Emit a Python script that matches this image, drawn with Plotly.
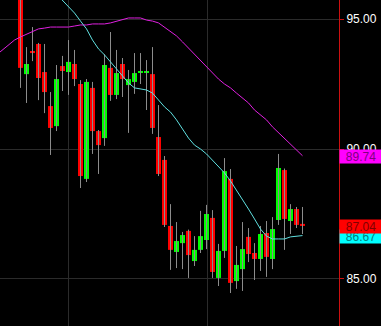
import plotly.graph_objects as go

# ---- data ----
idx = list(range(1, 49))
open_ = [96.00, 92.88, 93.77, 94.04, 92.96, 91.65, 90.88, 93.19, 92.96, 93.27,
         92.50, 88.85, 92.35, 90.69, 90.42, 93.12, 92.08, 93.27, 92.46, 92.58,
         92.94, 92.94, 92.88, 90.46, 89.58, 87.04, 86.04, 86.38, 86.85, 85.69,
         86.12, 86.50, 87.35, 85.04, 86.08, 88.85, 84.92, 85.38, 86.62, 86.00,
         85.77, 86.77, 85.77, 87.27, 89.19, 87.23, 87.69, 87.12]
high = [96.20, 93.92, 94.69, 94.08, 94.04, 92.19, 93.23, 93.58, 94.19, 93.81,
        92.65, 92.69, 92.58, 90.73, 93.65, 94.50, 93.81, 93.50, 93.04, 93.69,
        93.69, 93.42, 93.92, 91.69, 89.73, 87.88, 87.19, 86.81, 86.90, 86.65,
        87.62, 87.85, 87.65, 86.35, 89.65, 89.23, 86.27, 87.19, 86.96, 86.38,
        87.04, 87.23, 87.38, 89.81, 89.25, 87.88, 87.77, 87.77]
low = [92.35, 91.77, 93.38, 91.88, 91.38, 89.77, 90.69, 92.23, 92.08, 92.42,
       88.50, 88.73, 89.81, 89.04, 90.12, 91.85, 91.92, 92.00, 90.62, 92.12,
       92.50, 91.50, 90.58, 88.96, 87.00, 85.35, 85.42, 85.38, 85.04, 85.50,
       86.00, 86.15, 85.04, 84.73, 85.81, 84.46, 84.62, 84.54, 85.65, 84.96,
       85.31, 85.08, 85.38, 87.08, 86.12, 86.73, 86.96, 86.73]
close = [93.12, 93.27, 93.69, 92.73, 92.19, 90.81, 92.69, 93.00, 93.35, 92.69,
         88.96, 92.58, 90.69, 90.15, 93.23, 92.08, 92.92, 92.69, 92.69, 92.92,
         92.98, 92.98, 90.81, 89.04, 87.08, 86.12, 86.46, 86.69, 85.92, 86.12,
         86.65, 87.50, 85.27, 86.08, 89.15, 84.85, 85.54, 86.15, 85.96, 85.77,
         86.73, 85.85, 86.92, 89.27, 87.31, 87.69, 87.08, 87.04]

ma_x = list(range(-3, 49))
ma_fast = [None] * 10 + [
    95.96, 95.73, 95.50, 95.23, 94.92, 94.62, 94.19, 93.85, 93.62, 93.35,
    93.08, 92.77, 92.54, 92.35, 92.31, 92.27, 92.15, 91.88, 91.62, 91.42,
    91.12, 90.77, 90.42, 90.15, 90.00, 89.81, 89.58, 89.35, 89.08, 88.77,
    88.42, 88.04, 87.69, 87.31, 86.92, 86.65, 86.54, 86.54, 86.54, 86.62,
    86.65, 86.67]
ma_slow = [93.62, 93.81, 94.00, 94.19,
           94.31, 94.42, 94.54, 94.62, 94.65, 94.69, 94.69, 94.69, 94.69, 94.73,
           94.77, 94.77, 94.81, 94.81, 94.81, 94.85, 94.92, 95.00, 95.04, 95.04,
           95.04, 94.96, 94.92, 94.85, 94.69, 94.54, 94.35, 94.12, 93.88, 93.65,
           93.42, 93.15, 92.92, 92.69, 92.50, 92.35, 92.15, 91.96, 91.77, 91.50,
           91.31, 91.12, 90.85, 90.62, 90.42, 90.19, 89.96, 89.74]

y_ticks = [85, 90, 95]
y_tick_text = ["85.00", "90.00", "95.00"]

# ---- figure ----
UP = "#00ff00"
DOWN = "#ff0000"
fig = go.Figure()

wx, wy = [], []
for i, h, l in zip(idx, high, low):
    wx += [i, i, None]
    wy += [l, h, None]
fig.add_trace(go.Scatter(x=wx, y=wy, mode="lines",
                         line=dict(color="#8c8c8c", width=1), hoverinfo="skip"))

bases = [min(o, c) for o, c in zip(open_, close)]
heights = [max(abs(c - o), 0.04) for o, c in zip(open_, close)]
colors = [UP if c >= o else DOWN for o, c in zip(open_, close)]
fig.add_trace(go.Bar(x=idx, y=heights, base=bases, width=0.83,
                     marker=dict(color=colors, line=dict(width=0))))

fig.add_trace(go.Scatter(x=ma_x, y=ma_slow, mode="lines",
                         line=dict(color="#e020e0", width=1), connectgaps=False))
fig.add_trace(go.Scatter(x=ma_x, y=ma_fast, mode="lines",
                         line=dict(color="#60e0e0", width=1), connectgaps=False))

grid = "#2b2b2b"
axis_red = "#cc1010"
fig.update_layout(
    width=381, height=326,
    margin=dict(l=0, r=42, t=0, b=0),
    paper_bgcolor="#000000", plot_bgcolor="#000000",
    showlegend=False, barmode="overlay",
    xaxis=dict(range=[-2.4167, 54.0833], tickvals=[8.917, 32.083],
               showticklabels=False, showgrid=True, gridcolor=grid, gridwidth=1,
               zeroline=False, ticks="", showline=False),
    yaxis=dict(side="right", range=[83.192, 95.731], tickvals=y_ticks,
               ticktext=y_tick_text, showgrid=True, gridcolor=grid, gridwidth=1,
               zeroline=False, showline=True, linecolor=axis_red, linewidth=1,
               ticks="outside", ticklen=4, tickcolor=axis_red,
               tickfont=dict(color="#ffffff", size=12, family="Arial")),
)

labels = [
    (ma_fast[-1], "#00ffff", "#008080"),
    (close[-1], "#ff0000", "#800000"),
    (ma_slow[-1], "#ff00ff", "#800080"),
]
for val, bg, fg in labels:
    fig.add_annotation(xref="paper", x=1, xanchor="left", yref="y", y=val,
                       yshift=-1, text=f"{val:.2f}", showarrow=False,
                       bgcolor=bg, width=42, height=13, borderpad=0,
                       font=dict(color=fg, size=12, family="Arial"), align="center")

fig.write_html("out.html", config={"displayModeBar": False})
